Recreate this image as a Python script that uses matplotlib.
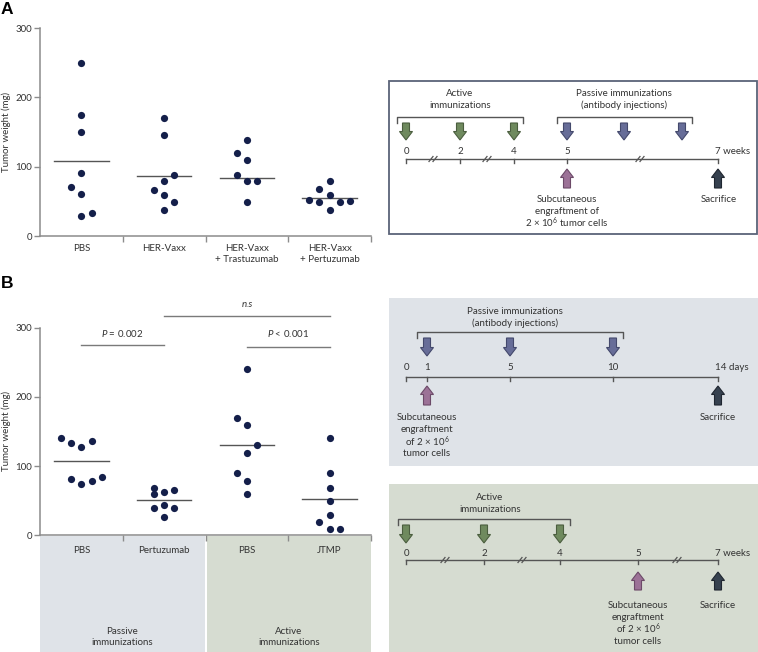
import matplotlib
matplotlib.use('Agg')
import matplotlib.pyplot as plt
from matplotlib.patches import Rectangle, Polygon
from matplotlib.ticker import FixedLocator

plt.rcParams['font.family'] = ['Lato', 'DejaVu Sans']
plt.rcParams['mathtext.fontset'] = 'custom'
plt.rcParams['mathtext.rm'] = 'Lato'
plt.rcParams['mathtext.it'] = 'Lato:italic'
plt.rcParams['mathtext.bf'] = 'Lato:bold'

# ---------------- data ----------------
cats_A = ["PBS", "HER-Vaxx", "HER-Vaxx\n+ Trastuzumab", "HER-Vaxx\n+ Pertuzumab"]
A_pbs = [250, 175, 150, 91, 70, 61, 29, 33]
A_vaxx = [170, 146, 88, 79, 66, 59, 49, 38]
A_tras = [139, 119, 109, 88, 79, 79, 49]
A_pert = [52, 49, 68, 79, 59, 38, 49, 51]
A_means = [107.5, 87, 84, 55.5]

cats_B = ["PBS", "Pertuzumab", "PBS", "JTMP"]
B_pbs_p = [140, 134, 127, 136, 82, 74, 79, 84]
B_pert = [69, 59, 62, 65, 39, 44, 39, 26]
B_pbs_a = [240, 169, 159, 130, 119, 90, 79, 59]
B_jtmp = [140, 90, 69, 50, 19, 29, 9, 9]
B_means = [107, 50.5, 131, 52]
B_groups = ["Passive\nimmunizations", "Active\nimmunizations"]
B_pvals = ["$\\it{P}$ = 0.002", "$\\it{P}$ < 0.001", "n.s"]

# horizontal jitter (in dot widths) for each point
A_off = [[0, 0, 0, 0, -1, 0, 0, 1],
         [0, 0, 1, 0, -1, 0, 1, 0],
         [0, -1, 0, -1, 0, 1, 0],
         [-2, -1, -1, 0, 0, 0, 1, 2]]
B_off = [[-2, -1, 0, 1, -1, 0, 1, 2],
         [-1, -1, 0, 1, -1, 0, 1, 0],
         [0, -1, 0, 1, 0, -1, 0, 0],
         [0, 0, 0, 0, -1, 0, 0, 1]]

W, H = 758, 652
fig = plt.figure(figsize=(W / 100, H / 100), dpi=100)

DOT = '#141f4a'
AXC = '#8c8c8c'
TXT = '#333333'
FS = 7

ov = fig.add_axes([0, 0, 1, 1], zorder=0)
ov.set_xlim(0, W)
ov.set_ylim(H, 0)
ov.axis('off')


def rect(x0, ytop, x1, ybot):
    return [x0 / W, 1 - ybot / H, (x1 - x0) / W, (ybot - ytop) / H]


def scatter_axes(r, series, offs, means, cats, pad):
    ax = fig.add_axes(r, zorder=2)
    ax.set_facecolor('none')
    for i, (vals, off) in enumerate(zip(series, offs)):
        xs = [i + o * 0.125 for o in off]
        ax.plot(xs, vals, 'o', color=DOT, ms=5.2, mew=0, clip_on=False, zorder=3)
        ax.plot([i - 0.33, i + 0.33], [means[i], means[i]], color='#555555', lw=1, zorder=2)
    ax.set_xlim(-0.5, 3.5)
    ax.set_ylim(0, 300)
    for s in ['top', 'right']:
        ax.spines[s].set_visible(False)
    for s in ['left', 'bottom']:
        ax.spines[s].set_color(AXC)
        ax.spines[s].set_linewidth(1.1)
    ax.set_yticks([0, 100, 200, 300])
    ax.tick_params(axis='y', length=4, width=1, color=AXC, labelsize=FS, labelcolor=TXT, pad=1.5)
    ax.set_xticks(range(4))
    ax.set_xticklabels(cats, fontsize=FS, color=TXT, linespacing=1.3)
    ax.tick_params(axis='x', length=0, pad=pad)
    ax.xaxis.set_minor_locator(FixedLocator([0.5, 1.5, 2.5, 3.5]))
    ax.tick_params(axis='x', which='minor', length=4, width=1, color=AXC)
    return ax


axA = scatter_axes(rect(40, 28, 371, 236), [A_pbs, A_vaxx, A_tras, A_pert], A_off, A_means, cats_A, 6)
axB = scatter_axes(rect(40, 327.7, 371, 535.3), [B_pbs_p, B_pert, B_pbs_a, B_jtmp], B_off, B_means, cats_B, 8)

fig.text(6 / W, 1 - 132 / H, "Tumor weight (mg)", rotation=90, ha='center', va='center', fontsize=FS, color=TXT)
fig.text(6 / W, 1 - 431 / H, "Tumor weight (mg)", rotation=90, ha='center', va='center', fontsize=FS, color=TXT)

# significance bars in panel B
SIG = '#7a7a7a'
for (x0, x1, yl, yt, lab) in [(0, 1, 275, 292, B_pvals[0]), (2, 3, 272, 292, B_pvals[1]), (1, 3, 317, 334, B_pvals[2])]:
    axB.plot([x0, x1], [yl, yl], color=SIG, lw=1, clip_on=False)
    kw = dict(style='italic') if lab == 'n.s' else {}
    axB.text((x0 + x1) / 2, yt, lab, ha='center', va='center', fontsize=FS, color=TXT, clip_on=False, **kw)

# shaded group areas below panel B
ov.add_patch(Rectangle((40, 536), 164.5, H - 536, facecolor='#dfe3e8', edgecolor='none'))
ov.add_patch(Rectangle((206.5, 536), 164.5, H - 536, facecolor='#d6dcd1', edgecolor='none'))
ov.text(122, 637, B_groups[0], ha='center', va='center', fontsize=FS, color=TXT, linespacing=1.3)
ov.text(289, 637, B_groups[1], ha='center', va='center', fontsize=FS, color=TXT, linespacing=1.3)

# panel letters
fig.text(1 / W, 1 - 9 / H, "A", fontsize=12.5, fontweight='bold', family='Liberation Sans', va='center', ha='left')
fig.text(1 / W, 1 - 284 / H, "B", fontsize=12.5, fontweight='bold', family='Liberation Sans', va='center', ha='left')

# ---------------- schematic helpers ----------------
GREEN = ('#6f8a5e', '#4b5e3f')
BLUE = ('#676d98', '#44496c')
PINK = ('#9c7297', '#6c4a68')
DARK = ('#36414f', '#1f2630')
LINE = '#555555'


def down_arrow(x, y0, y1, col):
    hl = 8.5
    pts = [(x - 3.5, y0), (x + 3.5, y0), (x + 3.5, y1 - hl), (x + 6.5, y1 - hl), (x, y1),
           (x - 6.5, y1 - hl), (x - 3.5, y1 - hl)]
    ov.add_patch(Polygon(pts, closed=True, facecolor=col[0], edgecolor=col[1], lw=0.8, zorder=3))


def up_arrow(x, y0, y1, col):
    hl = 8.5
    pts = [(x, y0), (x + 6.5, y0 + hl), (x + 3.5, y0 + hl), (x + 3.5, y1), (x - 3.5, y1),
           (x - 3.5, y0 + hl), (x - 6.5, y0 + hl)]
    ov.add_patch(Polygon(pts, closed=True, facecolor=col[0], edgecolor=col[1], lw=0.8, zorder=3))


def bracket(x0, x1, y):
    ov.plot([x0, x0, x1, x1], [y + 6, y, y, y + 6], color=LINE, lw=1)


def timeline(y, ticks, labels, ly, breaks, unit):
    ov.plot([ticks[0], ticks[-1]], [y, y], color=LINE, lw=1)
    for t in ticks:
        ov.plot([t, t], [y, y + 4], color=LINE, lw=1)
    for t, l in zip(ticks[:-1], labels[:-1]):
        ov.text(t, ly, l, ha='center', va='center', fontsize=FS, color=TXT)
    ov.text(ticks[-1] - 3, ly, labels[-1] + " " + unit, ha='left', va='center', fontsize=FS, color=TXT)
    for b in breaks:
        for dx in (-2, 2):
            ov.plot([b + dx - 2, b + dx + 2], [y + 2.5, y - 2.5], color=LINE, lw=0.9)


def lines(x, ys, texts):
    for yy, t in zip(ys, texts):
        ov.text(x, yy, t, ha='center', va='center', fontsize=FS, color=TXT)


cells = "2 × 10$^{6}$ tumor cells"

# ---------------- panel A schematic ----------------
ov.add_patch(Rectangle((389, 81), 368, 153, facecolor='white', edgecolor='#5b6378', lw=1.3))
timeline(159, [406, 460, 514, 567, 718], ["0", "2", "4", "5", "7"], 151, [433, 487, 640], "weeks")
bracket(397, 523, 117)
bracket(557, 692, 117)
lines(460, [93, 105], ["Active", "immunizations"])
lines(624, [93, 105], ["Passive immunizations", "(antibody injections)"])
for x in [406, 460, 514]:
    down_arrow(x, 123, 140, GREEN)
for x in [567, 624, 682]:
    down_arrow(x, 123, 140, BLUE)
up_arrow(567, 169, 188, PINK)
up_arrow(718, 169, 188, DARK)
lines(567, [199, 211, 223], ["Subcutaneous", "engraftment of", cells])
lines(719, [199], ["Sacrifice"])

# ---------------- panel B schematic (passive) ----------------
ov.add_patch(Rectangle((389, 298), 369, 168, facecolor='#dfe3e8', edgecolor='none'))
timeline(377, [406, 427, 510, 613, 718], ["0", "1", "5", "10", "14"], 368, [], "days")
bracket(417, 623, 332)
lines(515, [311, 323], ["Passive immunizations", "(antibody injections)"])
for x in [427, 510, 613]:
    down_arrow(x, 338, 356, BLUE)
up_arrow(427, 386, 405, PINK)
up_arrow(718, 386, 405, DARK)
lines(427, [418, 430, 442, 454], ["Subcutaneous", "engraftment", "of 2 × 10$^{6}$", "tumor cells"])
lines(718, [418], ["Sacrifice"])

# ---------------- panel B schematic (active) ----------------
ov.add_patch(Rectangle((389, 484), 369, H - 484, facecolor='#d6dcd1', edgecolor='none'))
timeline(560, [406, 484, 560, 638, 718], ["0", "2", "4", "5", "7"], 553, [445, 522, 677], "weeks")
bracket(398, 570, 519)
lines(490, [497, 509], ["Active", "immunizations"])
for x in [406, 484, 560]:
    down_arrow(x, 525, 543, GREEN)
up_arrow(638, 572, 590, PINK)
up_arrow(718, 572, 590, DARK)
lines(638, [605, 617, 629, 641], ["Subcutaneous", "engraftment", "of 2 × 10$^{6}$", "tumor cells"])
lines(718, [605], ["Sacrifice"])

fig.savefig('out.png', dpi=100)
